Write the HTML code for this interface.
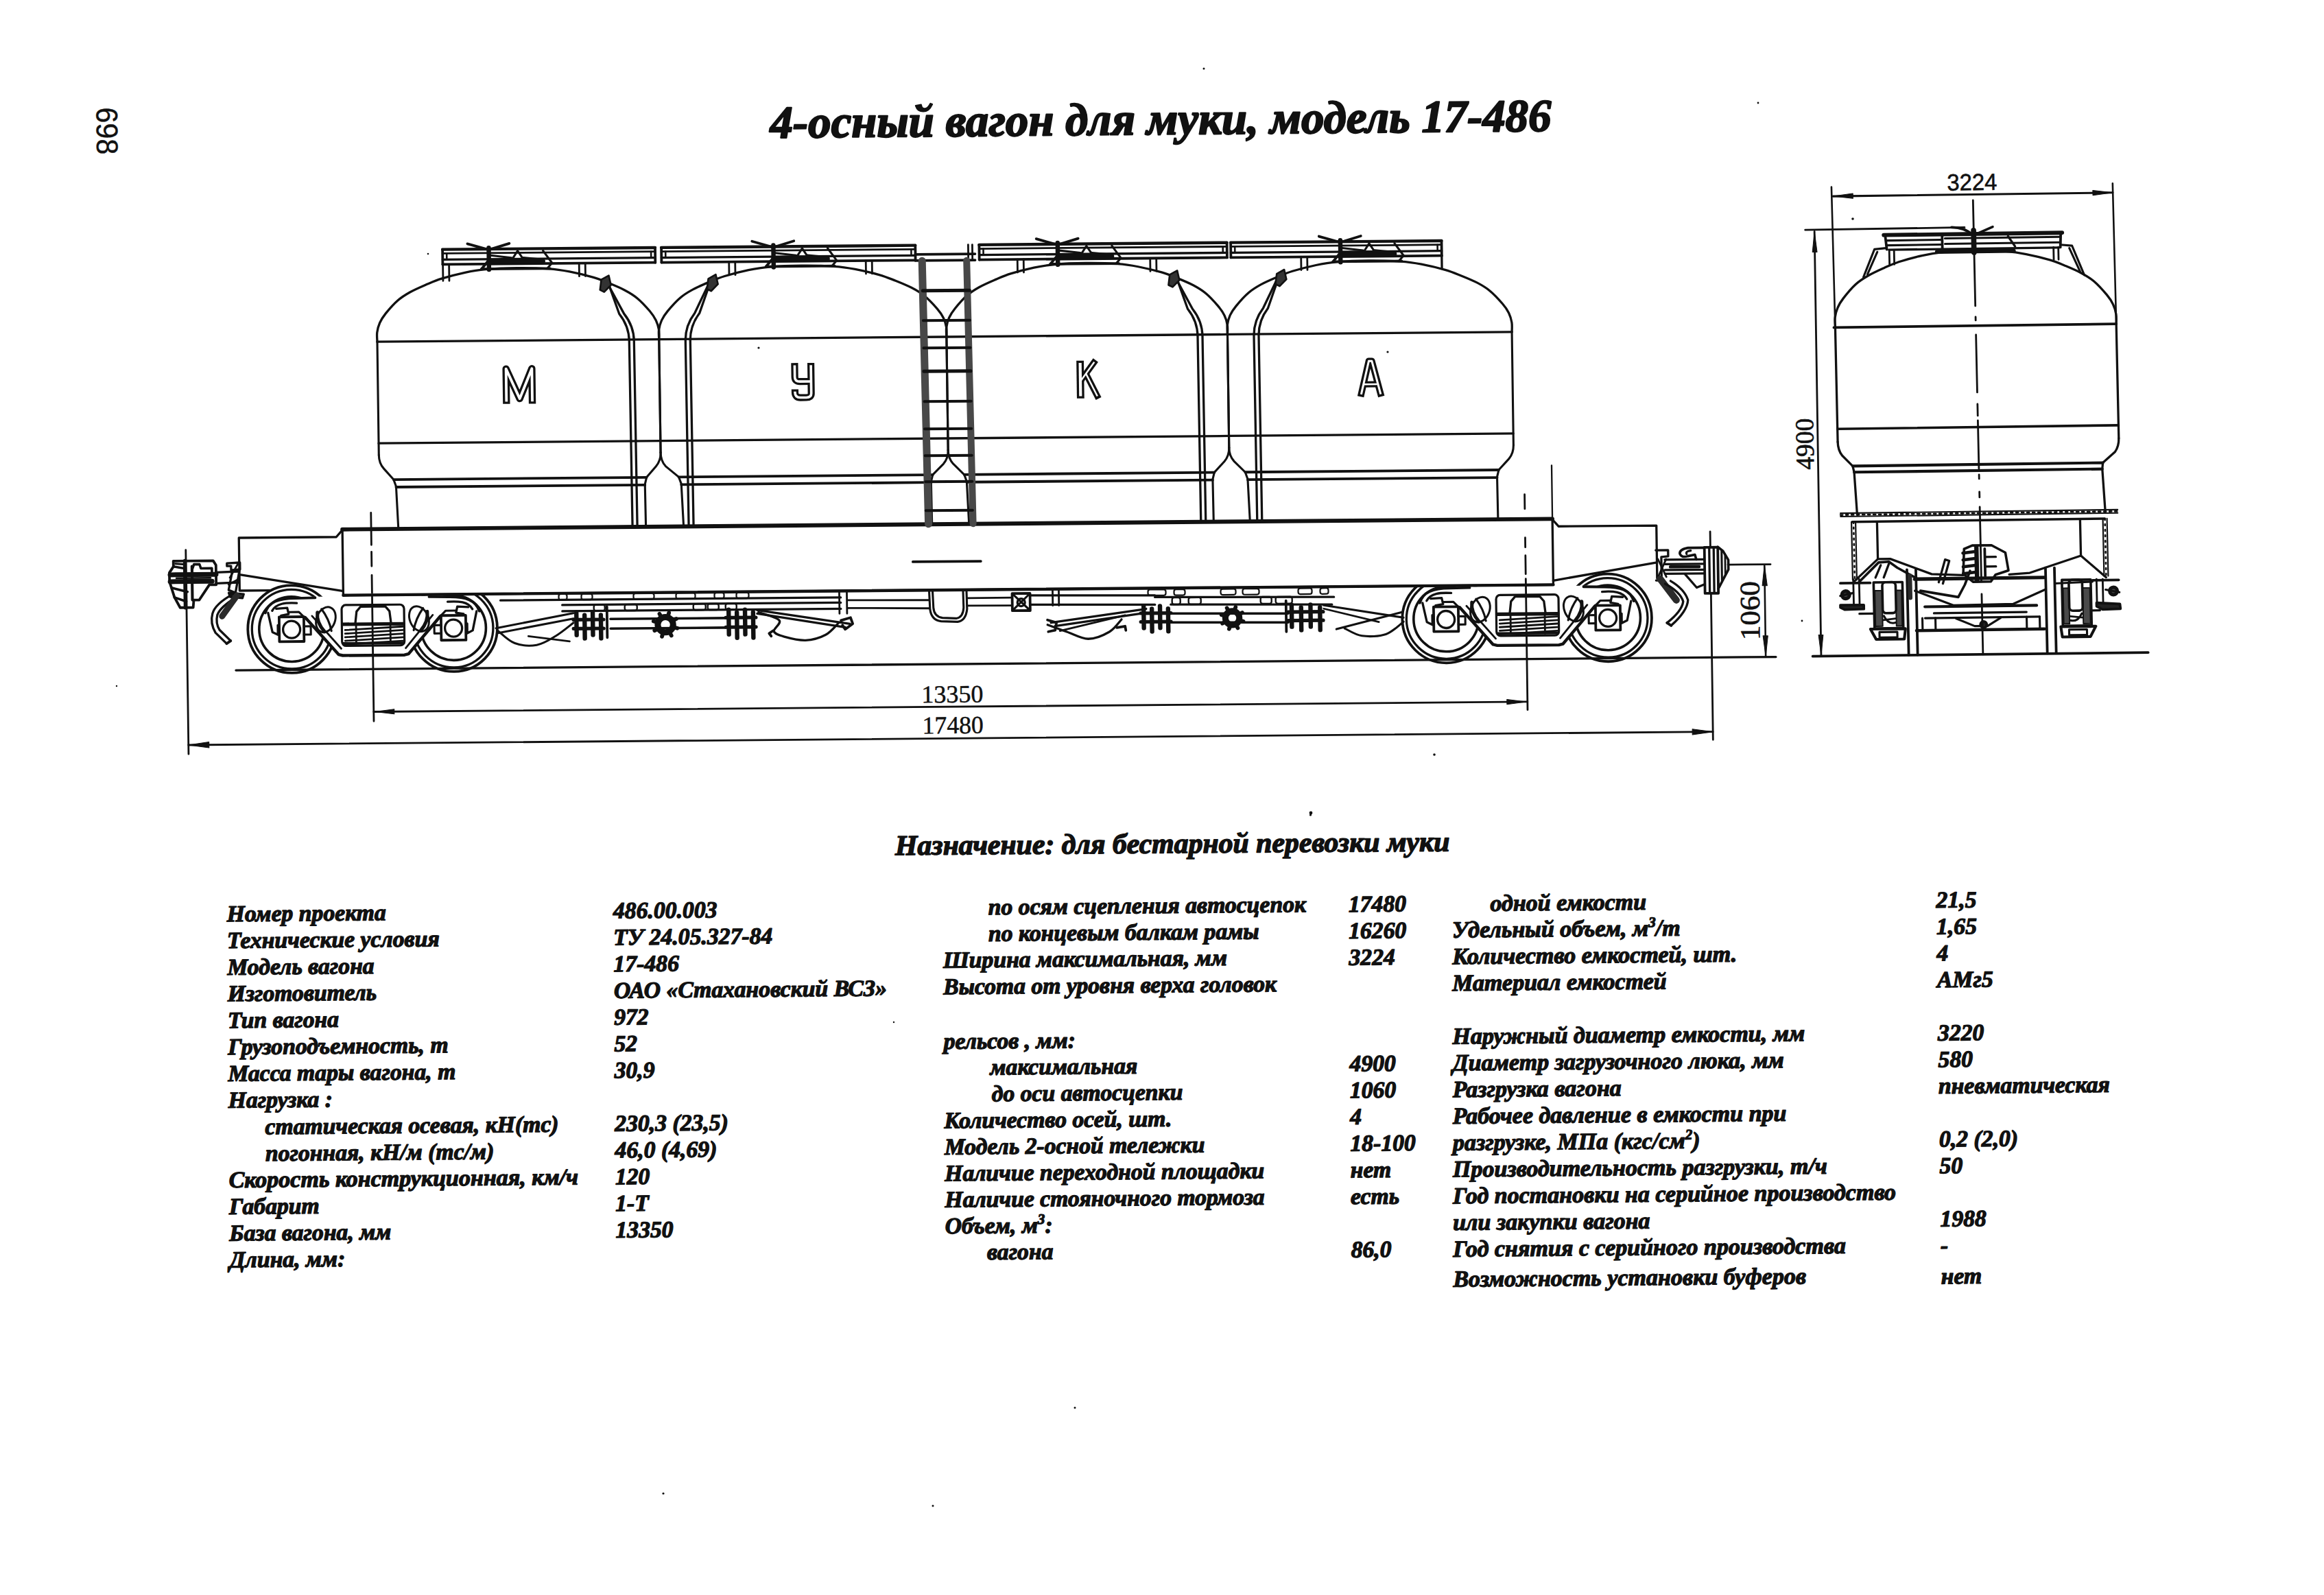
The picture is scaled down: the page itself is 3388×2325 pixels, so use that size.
<!DOCTYPE html><html><head><meta charset="utf-8"><title>4-осный вагон для муки, модель 17-486</title><style>html,body{margin:0;padding:0;background:#fff}body{width:3388px;height:2325px;position:relative;overflow:hidden;font-family:"Liberation Serif",serif}</style></head><body><svg width="3388" height="2325" viewBox="0 0 3388 2325" style="position:absolute;left:0;top:0">
<g fill="#111" stroke="#111" stroke-width="1.3" stroke-linejoin="round">
<text x="1122.7" y="200.9" font-size="66.7" font-family="Liberation Serif" font-weight="bold" font-style="italic" textLength="1139.0" lengthAdjust="spacingAndGlyphs" transform="rotate(-0.5 1122.7 200.9)" stroke-width="2.2">4-осный вагон для муки, модель 17-486</text>
<text x="1305.0" y="1246.2" font-size="41.5" font-family="Liberation Serif" font-weight="bold" font-style="italic" textLength="808.5" lengthAdjust="spacingAndGlyphs" transform="rotate(-0.4 1305.0 1246.2)" stroke-width="1.5">Назначение: для бестарной перевозки муки</text>
<text x="330.8" y="1343.3" font-size="33.7" font-family="Liberation Serif" font-weight="bold" font-style="italic" transform="rotate(-0.5 330.8 1343.3)" >Номер проекта</text>
<text x="331.1" y="1382.1" font-size="33.7" font-family="Liberation Serif" font-weight="bold" font-style="italic" transform="rotate(-0.5 331.1 1382.1)" >Технические условия</text>
<text x="331.4" y="1420.9" font-size="33.7" font-family="Liberation Serif" font-weight="bold" font-style="italic" transform="rotate(-0.5 331.4 1420.9)" >Модель вагона</text>
<text x="331.7" y="1459.6" font-size="33.7" font-family="Liberation Serif" font-weight="bold" font-style="italic" transform="rotate(-0.5 331.7 1459.6)" >Изготовитель</text>
<text x="332.0" y="1498.4" font-size="33.7" font-family="Liberation Serif" font-weight="bold" font-style="italic" transform="rotate(-0.5 332.0 1498.4)" >Тип вагона</text>
<text x="332.3" y="1537.2" font-size="33.7" font-family="Liberation Serif" font-weight="bold" font-style="italic" transform="rotate(-0.5 332.3 1537.2)" >Грузоподъемность, т</text>
<text x="332.5" y="1576.0" font-size="33.7" font-family="Liberation Serif" font-weight="bold" font-style="italic" transform="rotate(-0.5 332.5 1576.0)" >Масса тары вагона, т</text>
<text x="332.8" y="1614.8" font-size="33.7" font-family="Liberation Serif" font-weight="bold" font-style="italic" transform="rotate(-0.5 332.8 1614.8)" >Нагрузка :</text>
<text x="386.6" y="1653.5" font-size="33.7" font-family="Liberation Serif" font-weight="bold" font-style="italic" transform="rotate(-0.5 386.6 1653.5)" >статическая осевая, кН(тс)</text>
<text x="386.9" y="1692.3" font-size="33.7" font-family="Liberation Serif" font-weight="bold" font-style="italic" transform="rotate(-0.5 386.9 1692.3)" >погонная, кН/м (тс/м)</text>
<text x="333.7" y="1731.1" font-size="33.7" font-family="Liberation Serif" font-weight="bold" font-style="italic" textLength="509.5" lengthAdjust="spacingAndGlyphs" transform="rotate(-0.5 333.7 1731.1)" >Скорость конструкционная, км/ч</text>
<text x="334.0" y="1769.9" font-size="33.7" font-family="Liberation Serif" font-weight="bold" font-style="italic" transform="rotate(-0.5 334.0 1769.9)" >Габарит</text>
<text x="334.3" y="1808.7" font-size="33.7" font-family="Liberation Serif" font-weight="bold" font-style="italic" transform="rotate(-0.5 334.3 1808.7)" >База вагона, мм</text>
<text x="334.6" y="1847.4" font-size="33.7" font-family="Liberation Serif" font-weight="bold" font-style="italic" transform="rotate(-0.5 334.6 1847.4)" >Длина, мм:</text>
<text x="894.0" y="1338.6" font-size="33.7" font-family="Liberation Serif" font-weight="bold" font-style="italic" transform="rotate(-0.5 894.0 1338.6)" >486.00.003</text>
<text x="894.3" y="1377.4" font-size="33.7" font-family="Liberation Serif" font-weight="bold" font-style="italic" transform="rotate(-0.5 894.3 1377.4)" >ТУ 24.05.327-84</text>
<text x="894.6" y="1416.2" font-size="33.7" font-family="Liberation Serif" font-weight="bold" font-style="italic" transform="rotate(-0.5 894.6 1416.2)" >17-486</text>
<text x="894.9" y="1454.9" font-size="33.7" font-family="Liberation Serif" font-weight="bold" font-style="italic" transform="rotate(-0.5 894.9 1454.9)" >ОАО «Стахановский ВСЗ»</text>
<text x="895.2" y="1493.7" font-size="33.7" font-family="Liberation Serif" font-weight="bold" font-style="italic" transform="rotate(-0.5 895.2 1493.7)" >972</text>
<text x="895.5" y="1532.5" font-size="33.7" font-family="Liberation Serif" font-weight="bold" font-style="italic" transform="rotate(-0.5 895.5 1532.5)" >52</text>
<text x="895.7" y="1571.3" font-size="33.7" font-family="Liberation Serif" font-weight="bold" font-style="italic" transform="rotate(-0.5 895.7 1571.3)" >30,9</text>
<text x="896.3" y="1648.8" font-size="33.7" font-family="Liberation Serif" font-weight="bold" font-style="italic" transform="rotate(-0.5 896.3 1648.8)" >230,3 (23,5)</text>
<text x="896.6" y="1687.6" font-size="33.7" font-family="Liberation Serif" font-weight="bold" font-style="italic" transform="rotate(-0.5 896.6 1687.6)" >46,0 (4,69)</text>
<text x="896.9" y="1726.4" font-size="33.7" font-family="Liberation Serif" font-weight="bold" font-style="italic" transform="rotate(-0.5 896.9 1726.4)" >120</text>
<text x="897.2" y="1765.2" font-size="33.7" font-family="Liberation Serif" font-weight="bold" font-style="italic" transform="rotate(-0.5 897.2 1765.2)" >1-Т</text>
<text x="897.5" y="1804.0" font-size="33.7" font-family="Liberation Serif" font-weight="bold" font-style="italic" transform="rotate(-0.5 897.5 1804.0)" >13350</text>
<text x="1440.8" y="1333.3" font-size="33.7" font-family="Liberation Serif" font-weight="bold" font-style="italic" transform="rotate(-0.5 1440.8 1333.3)" >по осям сцепления автосцепок</text>
<text x="1441.1" y="1372.0" font-size="33.7" font-family="Liberation Serif" font-weight="bold" font-style="italic" transform="rotate(-0.5 1441.1 1372.0)" >по концевым балкам рамы</text>
<text x="1374.9" y="1410.7" font-size="33.7" font-family="Liberation Serif" font-weight="bold" font-style="italic" transform="rotate(-0.5 1374.9 1410.7)" >Ширина максимальная, мм</text>
<text x="1375.2" y="1449.5" font-size="33.7" font-family="Liberation Serif" font-weight="bold" font-style="italic" transform="rotate(-0.5 1375.2 1449.5)" >Высота от уровня верха головок</text>
<text x="1375.7" y="1529.1" font-size="33.7" font-family="Liberation Serif" font-weight="bold" font-style="italic" transform="rotate(-0.5 1375.7 1529.1)" >рельсов , мм:</text>
<text x="1443.5" y="1566.7" font-size="33.7" font-family="Liberation Serif" font-weight="bold" font-style="italic" transform="rotate(-0.5 1443.5 1566.7)" >максимальная</text>
<text x="1445.8" y="1605.4" font-size="33.7" font-family="Liberation Serif" font-weight="bold" font-style="italic" transform="rotate(-0.5 1445.8 1605.4)" >до оси автосцепки</text>
<text x="1376.6" y="1644.6" font-size="33.7" font-family="Liberation Serif" font-weight="bold" font-style="italic" transform="rotate(-0.5 1376.6 1644.6)" >Количество осей, шт.</text>
<text x="1376.9" y="1682.9" font-size="33.7" font-family="Liberation Serif" font-weight="bold" font-style="italic" transform="rotate(-0.5 1376.9 1682.9)" >Модель 2-осной тележки</text>
<text x="1377.2" y="1721.5" font-size="33.7" font-family="Liberation Serif" font-weight="bold" font-style="italic" transform="rotate(-0.5 1377.2 1721.5)" >Наличие переходной площадки</text>
<text x="1377.5" y="1759.8" font-size="33.7" font-family="Liberation Serif" font-weight="bold" font-style="italic" transform="rotate(-0.5 1377.5 1759.8)" >Наличие стояночного тормоза</text>
<text x="1377.8" y="1798.3" font-size="33.7" font-family="Liberation Serif" font-weight="bold" font-style="italic" transform="rotate(-0.5 1377.8 1798.3)" >Объем, м<tspan font-size="21" dy="-13">3</tspan><tspan dy="13">:</tspan></text>
<text x="1439.0" y="1836.1" font-size="33.7" font-family="Liberation Serif" font-weight="bold" font-style="italic" transform="rotate(-0.5 1439.0 1836.1)" >вагона</text>
<text x="1965.9" y="1329.2" font-size="33.7" font-family="Liberation Serif" font-weight="bold" font-style="italic" transform="rotate(-0.5 1965.9 1329.2)" >17480</text>
<text x="1966.2" y="1367.9" font-size="33.7" font-family="Liberation Serif" font-weight="bold" font-style="italic" transform="rotate(-0.5 1966.2 1367.9)" >16260</text>
<text x="1966.5" y="1406.7" font-size="33.7" font-family="Liberation Serif" font-weight="bold" font-style="italic" transform="rotate(-0.5 1966.5 1406.7)" >3224</text>
<text x="1967.6" y="1561.6" font-size="33.7" font-family="Liberation Serif" font-weight="bold" font-style="italic" transform="rotate(-0.5 1967.6 1561.6)" >4900</text>
<text x="1967.9" y="1600.3" font-size="33.7" font-family="Liberation Serif" font-weight="bold" font-style="italic" transform="rotate(-0.5 1967.9 1600.3)" >1060</text>
<text x="1968.2" y="1639.0" font-size="33.7" font-family="Liberation Serif" font-weight="bold" font-style="italic" transform="rotate(-0.5 1968.2 1639.0)" >4</text>
<text x="1968.5" y="1677.8" font-size="33.7" font-family="Liberation Serif" font-weight="bold" font-style="italic" transform="rotate(-0.5 1968.5 1677.8)" >18-100</text>
<text x="1968.8" y="1716.5" font-size="33.7" font-family="Liberation Serif" font-weight="bold" font-style="italic" transform="rotate(-0.5 1968.8 1716.5)" >нет</text>
<text x="1969.1" y="1755.2" font-size="33.7" font-family="Liberation Serif" font-weight="bold" font-style="italic" transform="rotate(-0.5 1969.1 1755.2)" >есть</text>
<text x="1969.7" y="1832.7" font-size="33.7" font-family="Liberation Serif" font-weight="bold" font-style="italic" transform="rotate(-0.5 1969.7 1832.7)" >86,0</text>
<text x="2172.5" y="1327.9" font-size="34.03" font-family="Liberation Serif" font-weight="bold" font-style="italic" transform="rotate(-0.5 2172.5 1327.9)" >одной емкости</text>
<text x="2117.1" y="1366.7" font-size="34.03" font-family="Liberation Serif" font-weight="bold" font-style="italic" transform="rotate(-0.5 2117.1 1366.7)" >Удельный объем, м<tspan font-size="21" dy="-13">3</tspan><tspan dy="13">/т</tspan></text>
<text x="2117.2" y="1405.4" font-size="34.03" font-family="Liberation Serif" font-weight="bold" font-style="italic" transform="rotate(-0.5 2117.2 1405.4)" >Количество емкостей, шт.</text>
<text x="2117.3" y="1444.2" font-size="34.03" font-family="Liberation Serif" font-weight="bold" font-style="italic" transform="rotate(-0.5 2117.3 1444.2)" >Материал емкостей</text>
<text x="2117.5" y="1521.8" font-size="34.03" font-family="Liberation Serif" font-weight="bold" font-style="italic" transform="rotate(-0.5 2117.5 1521.8)" >Наружный диаметр емкости, мм</text>
<text x="2117.6" y="1560.5" font-size="34.03" font-family="Liberation Serif" font-weight="bold" font-style="italic" transform="rotate(-0.5 2117.6 1560.5)" >Диаметр загрузочного люка, мм</text>
<text x="2117.7" y="1599.3" font-size="34.03" font-family="Liberation Serif" font-weight="bold" font-style="italic" transform="rotate(-0.5 2117.7 1599.3)" >Разгрузка вагона</text>
<text x="2117.8" y="1638.1" font-size="34.03" font-family="Liberation Serif" font-weight="bold" font-style="italic" transform="rotate(-0.5 2117.8 1638.1)" >Рабочее давление в емкости при</text>
<text x="2117.9" y="1676.8" font-size="34.03" font-family="Liberation Serif" font-weight="bold" font-style="italic" transform="rotate(-0.5 2117.9 1676.8)" >разгрузке, МПа (кгс/см<tspan font-size="21" dy="-13">2</tspan><tspan dy="13">)</tspan></text>
<text x="2118.0" y="1715.6" font-size="34.03" font-family="Liberation Serif" font-weight="bold" font-style="italic" transform="rotate(-0.5 2118.0 1715.6)" >Производительность разгрузки, т/ч</text>
<text x="2118.1" y="1754.4" font-size="34.03" font-family="Liberation Serif" font-weight="bold" font-style="italic" transform="rotate(-0.5 2118.1 1754.4)" >Год постановки на серийное производство</text>
<text x="2118.2" y="1793.1" font-size="34.03" font-family="Liberation Serif" font-weight="bold" font-style="italic" transform="rotate(-0.5 2118.2 1793.1)" >или закупки вагона</text>
<text x="2118.3" y="1831.9" font-size="34.03" font-family="Liberation Serif" font-weight="bold" font-style="italic" transform="rotate(-0.5 2118.3 1831.9)" >Год снятия с серийного производства</text>
<text x="2118.4" y="1875.8" font-size="34.03" font-family="Liberation Serif" font-weight="bold" font-style="italic" transform="rotate(-0.5 2118.4 1875.8)" >Возможность установки буферов</text>
<text x="2822.6" y="1323.0" font-size="33.7" font-family="Liberation Serif" font-weight="bold" font-style="italic" transform="rotate(-0.5 2822.6 1323.0)" >21,5</text>
<text x="2823.1" y="1361.7" font-size="33.7" font-family="Liberation Serif" font-weight="bold" font-style="italic" transform="rotate(-0.5 2823.1 1361.7)" >1,65</text>
<text x="2823.6" y="1400.5" font-size="33.7" font-family="Liberation Serif" font-weight="bold" font-style="italic" transform="rotate(-0.5 2823.6 1400.5)" >4</text>
<text x="2824.1" y="1439.2" font-size="33.7" font-family="Liberation Serif" font-weight="bold" font-style="italic" transform="rotate(-0.5 2824.1 1439.2)" >АМг5</text>
<text x="2825.1" y="1516.7" font-size="33.7" font-family="Liberation Serif" font-weight="bold" font-style="italic" transform="rotate(-0.5 2825.1 1516.7)" >3220</text>
<text x="2825.6" y="1555.4" font-size="33.7" font-family="Liberation Serif" font-weight="bold" font-style="italic" transform="rotate(-0.5 2825.6 1555.4)" >580</text>
<text x="2826.1" y="1594.1" font-size="33.7" font-family="Liberation Serif" font-weight="bold" font-style="italic" transform="rotate(-0.5 2826.1 1594.1)" >пневматическая</text>
<text x="2827.1" y="1671.6" font-size="33.7" font-family="Liberation Serif" font-weight="bold" font-style="italic" transform="rotate(-0.5 2827.1 1671.6)" >0,2 (2,0)</text>
<text x="2827.6" y="1710.3" font-size="33.7" font-family="Liberation Serif" font-weight="bold" font-style="italic" transform="rotate(-0.5 2827.6 1710.3)" >50</text>
<text x="2828.6" y="1787.8" font-size="33.7" font-family="Liberation Serif" font-weight="bold" font-style="italic" transform="rotate(-0.5 2828.6 1787.8)" >1988</text>
<text x="2829.1" y="1826.5" font-size="33.7" font-family="Liberation Serif" font-weight="bold" font-style="italic" transform="rotate(-0.5 2829.1 1826.5)" >-</text>
<text x="2829.7" y="1871.4" font-size="33.7" font-family="Liberation Serif" font-weight="bold" font-style="italic" transform="rotate(-0.5 2829.7 1871.4)" >нет</text>
<text x="1343.5" y="1024.3" font-size="36" font-family="Liberation Serif" font-weight="normal" font-style="normal" textLength="90.0" lengthAdjust="spacingAndGlyphs" transform="rotate(-0.5 1343.5 1024.3)" stroke-width="0.5">13350</text>
<text x="1344.8" y="1069.4" font-size="36" font-family="Liberation Serif" font-weight="normal" font-style="normal" textLength="89.0" lengthAdjust="spacingAndGlyphs" transform="rotate(-0.5 1344.8 1069.4)" stroke-width="0.5">17480</text>
<text x="0" y="0" font-size="41" font-family="Liberation Serif" transform="translate(2565.5 933) rotate(-90.6)" textLength="86" lengthAdjust="spacingAndGlyphs" stroke-width="0.6">1060</text>
<text x="0" y="0" font-size="38" font-family="Liberation Serif" transform="translate(2644.5 684.5) rotate(-91)" textLength="75" lengthAdjust="spacingAndGlyphs" stroke-width="0.6">4900</text>
<text x="2838.5" y="277.8" font-size="34" font-family="Liberation Sans" font-weight="normal" font-style="normal" textLength="73.0" lengthAdjust="spacingAndGlyphs" transform="rotate(-0.8 2838.5 277.8)" stroke-width="0.6">3224</text>
<text x="0" y="0" font-size="44" font-family="Liberation Sans" transform="translate(140.5 156.5) rotate(89.5)" textLength="69" lengthAdjust="spacingAndGlyphs" stroke-width="0.4">698</text>
</g>
<g transform="matrix(1,-0.0087,0.014,1,-12.600,12.049)" stroke="#111" fill="none" stroke-linecap="round" stroke-linejoin="round">
<path d="M343 968L2588 968" stroke-width="3.3" />
<g transform="translate(543 908.8)">
<circle cx="-118" cy="0" r="63.8" stroke-width="3.8" fill="none" />
<circle cx="-118" cy="0" r="57.8" stroke-width="3.3" fill="none" />
<circle cx="-118" cy="0" r="47.3" stroke-width="3.6" fill="none" />
<circle cx="118" cy="0" r="63.8" stroke-width="3.8" fill="none" />
<circle cx="118" cy="0" r="57.8" stroke-width="3.3" fill="none" />
<circle cx="118" cy="0" r="47.3" stroke-width="3.6" fill="none" />
<path d="M-156 -22C-150 -40 -135 -46 -112 -46L-83 -47L100 -47L112 -46C135 -46 150 -40 156 -22L140 -20L100 -16L52 38.5L-48 38.5L-97 -16L-140 -20Z" stroke-width="0" fill="#fff" stroke='none'/>
<path d="M-156 -24C-151 -40 -137 -45 -112 -45L-83 -45.5" stroke-width="3.8" fill="none" />
<path d="M156 -24C151 -40 137 -45 112 -45L83 -45.5" stroke-width="3.8" fill="none" />
<path d="M-146 -27C-140 -38 -126 -39 -110 -38" stroke-width="3.3" fill="none" />
<path d="M146 -27C140 -38 126 -39 110 -38" stroke-width="3.3" fill="none" />
<path d="M-98 -17L-50 37.5L-44 39L46 39L52 37.5L99 -17" stroke-width="4.4" fill="none" />
<path d="M-88 -19L-46 29" stroke-width="2.8" fill="none" />
<path d="M88 -19L48 29" stroke-width="2.8" fill="none" />
<path d="M-152 -24L-146 4L-138 8L-138 -6" stroke-width="3.3" fill="none" />
<path d="M-140 -30L-124 -31L-122 -22L-133 -20L-135 -14" stroke-width="3.3" fill="none" />
<path d="M-136 -18L-100 -18L-100 18L-136 18Z" stroke-width="3.8" fill="#fff" />
<circle cx="-118" cy="0.5" r="12.5" stroke-width="3.3" fill="#fff" />
<path d="M-100 -4L-90 -4L-90 8L-100 8" stroke-width="3.1" fill="none" />
<path d="M-100 -18L-107 -25L-122 -25" stroke-width="3.1" fill="none" />
<path d="M152 -24L146 4L138 8L138 -6" stroke-width="3.3" fill="none" />
<path d="M140 -30L124 -31L122 -22L133 -20L135 -14" stroke-width="3.3" fill="none" />
<path d="M136 -18L100 -18L100 18L136 18Z" stroke-width="3.8" fill="#fff" />
<circle cx="118" cy="0.5" r="12.5" stroke-width="3.3" fill="#fff" />
<path d="M100 -4L90 -4L90 8L100 8" stroke-width="3.1" fill="none" />
<path d="M100 -18L107 -25L122 -25" stroke-width="3.1" fill="none" />
<rect x="-44.7" y="-34.5" width="91" height="59.5" rx="6" stroke-width="3.2" fill="#fff"/>
<path d="M-25 -8L-23 -25L-17 -32L19 -32L25 -25L27 -8" stroke-width="3.3" fill="none" />
<path d="M-43 -6.5L45 -6.5" stroke-width="5.1" />
<path d="M-40 2L44 -2.5" stroke-width="2.8" />
<path d="M-40 7.2L44 2.7" stroke-width="2.8" />
<path d="M-40 12.4L44 7.9" stroke-width="2.8" />
<path d="M-40 17.6L44 13.1" stroke-width="2.8" />
<path d="M-40 22.8L44 18.3" stroke-width="2.8" />
<path d="M-24 -4L-24 22" stroke-width="2.8" />
<path d="M26 -4L26 22" stroke-width="2.8" />
<path d="M-43 21.5L45 21.5" stroke-width="3.8" />
<ellipse cx="-68" cy="-13.5" rx="13.5" ry="19" transform="rotate(22 -68 -13.5)" stroke-width="3" fill="#fff"/>
<path d="M-74 -29Q-63 -14 -60 3" stroke-width="3.1" fill="none" />
<path d="M-80 -24Q-82 -10 -70 4" stroke-width="5.1" fill="none" />
<ellipse cx="68" cy="-13.5" rx="13.5" ry="19" transform="rotate(-22 68 -13.5)" stroke-width="3" fill="#fff"/>
<path d="M74 -29Q63 -14 60 3" stroke-width="3.1" fill="none" />
<path d="M80 -24Q82 -10 70 4" stroke-width="5.1" fill="none" />
</g>
<g transform="translate(2226 908.8)">
<circle cx="-118" cy="0" r="63.8" stroke-width="3.8" fill="none" />
<circle cx="-118" cy="0" r="57.8" stroke-width="3.3" fill="none" />
<circle cx="-118" cy="0" r="47.3" stroke-width="3.6" fill="none" />
<circle cx="118" cy="0" r="63.8" stroke-width="3.8" fill="none" />
<circle cx="118" cy="0" r="57.8" stroke-width="3.3" fill="none" />
<circle cx="118" cy="0" r="47.3" stroke-width="3.6" fill="none" />
<path d="M-156 -22C-150 -40 -135 -46 -112 -46L-83 -47L100 -47L112 -46C135 -46 150 -40 156 -22L140 -20L100 -16L52 38.5L-48 38.5L-97 -16L-140 -20Z" stroke-width="0" fill="#fff" stroke='none'/>
<path d="M-156 -24C-151 -40 -137 -45 -112 -45L-83 -45.5" stroke-width="3.8" fill="none" />
<path d="M156 -24C151 -40 137 -45 112 -45L83 -45.5" stroke-width="3.8" fill="none" />
<path d="M-146 -27C-140 -38 -126 -39 -110 -38" stroke-width="3.3" fill="none" />
<path d="M146 -27C140 -38 126 -39 110 -38" stroke-width="3.3" fill="none" />
<path d="M-98 -17L-50 37.5L-44 39L46 39L52 37.5L99 -17" stroke-width="4.4" fill="none" />
<path d="M-88 -19L-46 29" stroke-width="2.8" fill="none" />
<path d="M88 -19L48 29" stroke-width="2.8" fill="none" />
<path d="M-152 -24L-146 4L-138 8L-138 -6" stroke-width="3.3" fill="none" />
<path d="M-140 -30L-124 -31L-122 -22L-133 -20L-135 -14" stroke-width="3.3" fill="none" />
<path d="M-136 -18L-100 -18L-100 18L-136 18Z" stroke-width="3.8" fill="#fff" />
<circle cx="-118" cy="0.5" r="12.5" stroke-width="3.3" fill="#fff" />
<path d="M-100 -4L-90 -4L-90 8L-100 8" stroke-width="3.1" fill="none" />
<path d="M-100 -18L-107 -25L-122 -25" stroke-width="3.1" fill="none" />
<path d="M152 -24L146 4L138 8L138 -6" stroke-width="3.3" fill="none" />
<path d="M140 -30L124 -31L122 -22L133 -20L135 -14" stroke-width="3.3" fill="none" />
<path d="M136 -18L100 -18L100 18L136 18Z" stroke-width="3.8" fill="#fff" />
<circle cx="118" cy="0.5" r="12.5" stroke-width="3.3" fill="#fff" />
<path d="M100 -4L90 -4L90 8L100 8" stroke-width="3.1" fill="none" />
<path d="M100 -18L107 -25L122 -25" stroke-width="3.1" fill="none" />
<rect x="-44.7" y="-34.5" width="91" height="59.5" rx="6" stroke-width="3.2" fill="#fff"/>
<path d="M-25 -8L-23 -25L-17 -32L19 -32L25 -25L27 -8" stroke-width="3.3" fill="none" />
<path d="M-43 -6.5L45 -6.5" stroke-width="5.1" />
<path d="M-40 2L44 -2.5" stroke-width="2.8" />
<path d="M-40 7.2L44 2.7" stroke-width="2.8" />
<path d="M-40 12.4L44 7.9" stroke-width="2.8" />
<path d="M-40 17.6L44 13.1" stroke-width="2.8" />
<path d="M-40 22.8L44 18.3" stroke-width="2.8" />
<path d="M-24 -4L-24 22" stroke-width="2.8" />
<path d="M26 -4L26 22" stroke-width="2.8" />
<path d="M-43 21.5L45 21.5" stroke-width="3.8" />
<ellipse cx="-68" cy="-13.5" rx="13.5" ry="19" transform="rotate(22 -68 -13.5)" stroke-width="3" fill="#fff"/>
<path d="M-74 -29Q-63 -14 -60 3" stroke-width="3.1" fill="none" />
<path d="M-80 -24Q-82 -10 -70 4" stroke-width="5.1" fill="none" />
<ellipse cx="68" cy="-13.5" rx="13.5" ry="19" transform="rotate(-22 68 -13.5)" stroke-width="3" fill="#fff"/>
<path d="M74 -29Q63 -14 60 3" stroke-width="3.1" fill="none" />
<path d="M80 -24Q82 -10 70 4" stroke-width="5.1" fill="none" />
</g>
<path d="M555.7 491C555.7 488.7 555 481.8 555.7 477.2C556.4 472.5 557.7 467.9 559.8 463.3C562 458.7 564.2 455.2 568.6 449.8C573.1 444.4 580.7 435.9 586.7 430.8C592.7 425.6 597.8 422.7 604.8 418.9C611.8 415.1 621.2 411.2 628.8 408C636.5 404.8 641.5 402.5 650.8 399.7C660.1 396.9 674.2 393.4 684.9 391.2C695.6 389.1 702.2 387.9 714.9 386.9C727.6 385.9 745.7 385.3 761.1 385.3C776.5 385.3 794.6 385.9 807.3 386.9C820 387.9 826.6 389.1 837.3 391.2C848 393.4 862.1 396.9 871.4 399.7C880.7 402.5 885.7 404.8 893.4 408C901 411.2 910.4 415.1 917.4 418.9C924.4 422.7 929.5 425.6 935.5 430.8C941.5 435.9 949.1 444.4 953.6 449.8C958 455.2 960.2 458.7 962.4 463.3C964.5 467.9 965.8 472.5 966.5 477.2C967.2 481.8 966.5 488.7 966.5 491" stroke-width="3.3" fill="none" />
<path d="M555.7 491L555.7 656" stroke-width="3.1" />
<path d="M966.5 491L966.5 656" stroke-width="3.1" />
<path d="M555.7 491L966.5 491" stroke-width="3.3" />
<path d="M555.7 639L966.5 639" stroke-width="3.3" />
<path d="M555.7 656Q555.7 668 562.7 676L576.7 692L580.2 702L582.7 763.5" stroke-width="3.1" fill="none" />
<path d="M966.5 656Q966.5 668 959.5 676L945.5 692L943 702L943.5 763.5" stroke-width="3.1" fill="none" />
<path d="M576.7 692L945.5 692" stroke-width="3.8" />
<path d="M580.2 703L943 703" stroke-width="3.8" />
<path d="M893.5 407.9L909 453.3Q923 471.3 923 493.3L924 763.5" stroke-width="3.3" fill="none" />
<path d="M893.5 410.7L916 453.3Q930 471.3 930 493.3L931 763.5" stroke-width="3.3" fill="none" />
<path d="M883.5 403.3L894.5 397.3L897.5 411.3L887.5 421.3L881.5 418.3Z" stroke-width="2.6" fill="#333" />
<g transform="translate(736.8 527.2)" stroke-linecap="butt" stroke-linejoin="round">
<path d="M6 56L6 4.8L25.4 48.5L43.7 4.8L43.7 56" stroke-width="10.4"/>
<path d="M6 52.7L6 4.8L25.4 48.5L43.7 4.8L43.7 52.7" stroke="#fff" stroke-width="3.8"/>
</g>
<path d="M966.5 491C966.5 488.7 965.8 481.8 966.5 477.2C967.2 472.5 968.5 467.9 970.7 463.3C972.9 458.7 975.1 455.2 979.7 449.8C984.3 444.4 992 435.9 998.1 430.8C1004.3 425.6 1009.4 422.7 1016.6 418.9C1023.7 415.1 1033.3 411.2 1041.1 408C1048.9 404.8 1054 402.5 1063.5 399.7C1073.1 396.9 1087.4 393.4 1098.3 391.2C1109.2 389.1 1115.9 387.9 1128.9 386.9C1141.9 385.9 1160.3 385.3 1176 385.3C1191.8 385.3 1210.2 385.9 1223.2 386.9C1236.2 387.9 1242.9 389.1 1253.8 391.2C1264.7 393.4 1279 396.9 1288.6 399.7C1298.1 402.5 1303.2 404.8 1311 408C1318.8 411.2 1328.4 415.1 1335.5 418.9C1342.7 422.7 1347.8 425.6 1354 430.8C1360.1 435.9 1367.8 444.4 1372.4 449.8C1377 455.2 1379.2 458.7 1381.4 463.3C1383.6 467.9 1384.9 472.5 1385.6 477.2C1386.3 481.8 1385.6 488.7 1385.6 491" stroke-width="3.3" fill="none" />
<path d="M966.5 491L966.5 656" stroke-width="3.1" />
<path d="M1385.6 491L1385.6 656" stroke-width="3.1" />
<path d="M966.5 491L1385.6 491" stroke-width="3.3" />
<path d="M966.5 639L1385.6 639" stroke-width="3.3" />
<path d="M966.5 656Q966.5 668 973.5 676L992.5 692L996 702L998.5 763.5" stroke-width="3.1" fill="none" />
<path d="M1385.6 656Q1385.6 668 1378.6 676L1362.6 692L1360.1 702L1360.6 763.5" stroke-width="3.1" fill="none" />
<path d="M992.5 692L1362.6 692" stroke-width="3.8" />
<path d="M996 703L1360.1 703" stroke-width="3.8" />
<path d="M1041.5 407.9L1019 453.3Q1005 471.3 1005 493.3L1006 763.5" stroke-width="3.3" fill="none" />
<path d="M1041.5 410.7L1026 453.3Q1012 471.3 1012 493.3L1013 763.5" stroke-width="3.3" fill="none" />
<path d="M1039.5 403.3L1050.5 397.3L1053.5 411.3L1043.5 421.3L1037.5 418.3Z" stroke-width="2.6" fill="#333" />
<g transform="translate(1157.7 527.2)" stroke-linecap="butt" stroke-linejoin="round">
<path d="M5.9 0L5.9 20.3Q5.9 27.1 13.3 27.1L29.6 27.1" stroke-width="10.2"/>
<path d="M29.6 0L29.6 44.6Q29.6 50.5 22.3 50.5L13.8 50.5Q5.9 50.5 5.9 42.9L5.9 38.4" stroke-width="10.2"/>
<path d="M5.9 3.3L5.9 20.3Q5.9 27.1 13.3 27.1L29.6 27.1" stroke="#fff" stroke-width="3.6"/>
<path d="M29.6 3.3L29.6 44.6Q29.6 50.5 22.3 50.5L13.8 50.5Q5.9 50.5 5.9 42.9L5.9 41.7" stroke="#fff" stroke-width="3.6"/>
</g>
<path d="M1385.6 491C1385.6 488.7 1384.9 481.8 1385.6 477.2C1386.3 472.5 1387.5 467.9 1389.7 463.3C1391.8 458.7 1394 455.2 1398.5 449.8C1403 444.4 1410.5 435.9 1416.5 430.8C1422.5 425.6 1427.5 422.7 1434.5 418.9C1441.5 415.1 1450.9 411.2 1458.5 408C1466.2 404.8 1471.1 402.5 1480.4 399.7C1489.7 396.9 1503.8 393.4 1514.4 391.2C1525.1 389.1 1531.7 387.9 1544.3 386.9C1557 385.9 1575 385.3 1590.4 385.3C1605.8 385.3 1623.8 385.9 1636.5 386.9C1649.1 387.9 1655.7 389.1 1666.4 391.2C1677 393.4 1691.1 396.9 1700.4 399.7C1709.7 402.5 1714.6 404.8 1722.3 408C1729.9 411.2 1739.3 415.1 1746.3 418.9C1753.3 422.7 1758.3 425.6 1764.3 430.8C1770.3 435.9 1777.8 444.4 1782.3 449.8C1786.8 455.2 1789 458.7 1791.1 463.3C1793.3 467.9 1794.5 472.5 1795.2 477.2C1795.9 481.8 1795.2 488.7 1795.2 491" stroke-width="3.3" fill="none" />
<path d="M1385.6 491L1385.6 656" stroke-width="3.1" />
<path d="M1795.2 491L1795.2 656" stroke-width="3.1" />
<path d="M1385.6 491L1795.2 491" stroke-width="3.3" />
<path d="M1385.6 639L1795.2 639" stroke-width="3.3" />
<path d="M1385.6 656Q1385.6 668 1392.6 676L1408.6 692L1412.1 702L1414.6 763.5" stroke-width="3.1" fill="none" />
<path d="M1795.2 656Q1795.2 668 1788.2 676L1773.2 692L1770.7 702L1771.2 763.5" stroke-width="3.1" fill="none" />
<path d="M1408.6 692L1773.2 692" stroke-width="3.8" />
<path d="M1412.1 703L1770.7 703" stroke-width="3.8" />
<path d="M1722.2 407.9L1737.7 453.3Q1751.7 471.3 1751.7 493.3L1752.7 763.5" stroke-width="3.3" fill="none" />
<path d="M1722.2 410.7L1744.7 453.3Q1758.7 471.3 1758.7 493.3L1759.7 763.5" stroke-width="3.3" fill="none" />
<path d="M1712.2 403.3L1723.2 397.3L1726.2 411.3L1716.2 421.3L1710.2 418.3Z" stroke-width="2.6" fill="#333" />
<g transform="translate(1574 527.4)" stroke-linecap="butt" stroke-linejoin="round">
<path d="M5.8 0L5.8 55" stroke-width="10.8"/>
<path d="M7 28.5L28.5 -0.5" stroke-width="9"/>
<path d="M14 19L32 55.5" stroke-width="9"/>
<path d="M5.8 3.3L5.8 51.7" stroke="#fff" stroke-width="4.2"/>
<path d="M7 28.5L26.5 2.2" stroke="#fff" stroke-width="2.4"/>
<path d="M14 19L30.3 52" stroke="#fff" stroke-width="2.4"/>
</g>
<path d="M1795.2 491C1795.2 488.7 1794.5 481.8 1795.2 477.2C1795.9 472.5 1797.2 467.9 1799.3 463.3C1801.5 458.7 1803.7 455.2 1808.3 449.8C1812.8 444.4 1820.4 435.9 1826.5 430.8C1832.6 425.6 1837.7 422.7 1844.7 418.9C1851.8 415.1 1861.3 411.2 1869 408C1876.7 404.8 1881.7 402.5 1891.2 399.7C1900.6 396.9 1914.8 393.4 1925.6 391.2C1936.4 389.1 1943 387.9 1955.9 386.9C1968.7 385.9 1987 385.3 2002.5 385.3C2018 385.3 2036.3 385.9 2049.1 386.9C2062 387.9 2068.6 389.1 2079.4 391.2C2090.2 393.4 2104.4 396.9 2113.8 399.7C2123.3 402.5 2128.3 404.8 2136 408C2143.7 411.2 2153.2 415.1 2160.3 418.9C2167.3 422.7 2172.4 425.6 2178.5 430.8C2184.6 435.9 2192.2 444.4 2196.7 449.8C2201.3 455.2 2203.5 458.7 2205.7 463.3C2207.8 467.9 2209.1 472.5 2209.8 477.2C2210.5 481.8 2209.8 488.7 2209.8 491" stroke-width="3.3" fill="none" />
<path d="M1795.2 491L1795.2 656" stroke-width="3.1" />
<path d="M2209.8 491L2209.8 656" stroke-width="3.1" />
<path d="M1795.2 491L2209.8 491" stroke-width="3.3" />
<path d="M1795.2 639L2209.8 639" stroke-width="3.3" />
<path d="M1795.2 656Q1795.2 668 1802.2 676L1818.2 692L1821.7 702L1824.2 763.5" stroke-width="3.1" fill="none" />
<path d="M2209.8 656Q2209.8 668 2202.8 676L2187.8 692L2185.3 702L2185.8 763.5" stroke-width="3.1" fill="none" />
<path d="M1818.2 692L2187.8 692" stroke-width="3.8" />
<path d="M1821.7 703L2185.3 703" stroke-width="3.8" />
<path d="M1870.2 407.9L1847.7 453.3Q1833.7 471.3 1833.7 493.3L1834.7 763.5" stroke-width="3.3" fill="none" />
<path d="M1870.2 410.7L1854.7 453.3Q1840.7 471.3 1840.7 493.3L1841.7 763.5" stroke-width="3.3" fill="none" />
<path d="M1868.2 403.3L1879.2 397.3L1882.2 411.3L1872.2 421.3L1866.2 418.3Z" stroke-width="2.6" fill="#333" />
<g transform="translate(1983 527)" stroke-linecap="butt" stroke-linejoin="round">
<path d="M5 56.5L17.6 4.6L22 4.6L35.2 56.5" stroke-width="9.6"/>
<path d="M10.5 38.5L29.5 38.5" stroke-width="9"/>
<path d="M5.9 53.2L17.6 4.6L22 4.6L34.3 53.2" stroke="#fff" stroke-width="3"/>
<path d="M10.5 38.5L29.5 38.5" stroke="#fff" stroke-width="2.4"/>
</g>
<path d="M501 860L501 763.5L2265 763.5L2265 860Z" stroke-width="3.3" fill="#fff" />
<path d="M501 764L2265 764" stroke-width="5.9" />
<path d="M501 860L2265 860" stroke-width="4.4" />
<path d="M1332 818.5L1431 818.5" stroke-width="3.8" />
<path d="M501 765L492 775L350 775L350 852L396 852" stroke-width="3.3" fill="none" />
<path d="M352 829L501 854" stroke-width="3.3" fill="none" />
<path d="M2265 765L2274 775L2416.5 775L2416.5 852" stroke-width="3.3" fill="none" />
<path d="M2415 829L2265 854" stroke-width="3.3" fill="none" />
<path d="M652.7 357.3L962.6 357.3" stroke-width="4.4" />
<path d="M652.7 363L962.6 363" stroke-width="2.8" />
<path d="M652.7 372L962.6 372" stroke-width="3.3" />
<path d="M652.7 379L962.6 379" stroke-width="3.8" />
<path d="M652.7 357.3L652.7 379" stroke-width="3.8" />
<path d="M962.6 357.3L962.6 379" stroke-width="3.8" />
<path d="M658.7 363L658.7 372" stroke-width="2.6" />
<path d="M956.6 363L956.6 372" stroke-width="2.6" />
<path d="M971.7 357.3L1341.9 357.3" stroke-width="4.4" />
<path d="M971.7 363L1341.9 363" stroke-width="2.8" />
<path d="M971.7 372L1341.9 372" stroke-width="3.3" />
<path d="M971.7 379L1341.9 379" stroke-width="3.8" />
<path d="M971.7 357.3L971.7 379" stroke-width="3.8" />
<path d="M1341.9 357.3L1341.9 379" stroke-width="3.8" />
<path d="M977.7 363L977.7 372" stroke-width="2.6" />
<path d="M1335.9 363L1335.9 372" stroke-width="2.6" />
<path d="M1435 357.3L1796.2 357.3" stroke-width="4.4" />
<path d="M1435 363L1796.2 363" stroke-width="2.8" />
<path d="M1435 372L1796.2 372" stroke-width="3.3" />
<path d="M1435 379L1796.2 379" stroke-width="3.8" />
<path d="M1435 357.3L1435 379" stroke-width="3.8" />
<path d="M1796.2 357.3L1796.2 379" stroke-width="3.8" />
<path d="M1441 363L1441 372" stroke-width="2.6" />
<path d="M1790.2 363L1790.2 372" stroke-width="2.6" />
<path d="M1801.7 357.3L2109.1 357.3" stroke-width="4.4" />
<path d="M1801.7 363L2109.1 363" stroke-width="2.8" />
<path d="M1801.7 372L2109.1 372" stroke-width="3.3" />
<path d="M1801.7 379L2109.1 379" stroke-width="3.8" />
<path d="M1801.7 357.3L1801.7 379" stroke-width="3.8" />
<path d="M2109.1 357.3L2109.1 379" stroke-width="3.8" />
<path d="M1807.7 363L1807.7 372" stroke-width="2.6" />
<path d="M2103.1 363L2103.1 372" stroke-width="2.6" />
<path d="M652.9 379L652.9 403" stroke-width="2.8" />
<path d="M661.9 379L661.9 403" stroke-width="2.8" />
<path d="M851.5 379L851.5 398" stroke-width="2.8" />
<path d="M860.5 379L860.5 398" stroke-width="2.8" />
<path d="M1070 379L1070 398" stroke-width="2.8" />
<path d="M1079 379L1079 398" stroke-width="2.8" />
<path d="M1269.5 379L1269.5 398" stroke-width="2.8" />
<path d="M1278.5 379L1278.5 398" stroke-width="2.8" />
<path d="M1490.5 379L1490.5 398" stroke-width="2.8" />
<path d="M1499.5 379L1499.5 398" stroke-width="2.8" />
<path d="M1684 379L1684 398" stroke-width="2.8" />
<path d="M1693 379L1693 398" stroke-width="2.8" />
<path d="M1904 379L1904 398" stroke-width="2.8" />
<path d="M1913 379L1913 398" stroke-width="2.8" />
<path d="M2109.1 379L2109.1 398" stroke-width="3.3" />
<path d="M709.1 386.3L809.1 386.3" stroke-width="3.8" />
<path d="M725.1 375.8L799.1 375.8" stroke-width="6.4" />
<path d="M720.1 366.3L753.1 370.3" stroke-width="3.1" />
<path d="M720.1 355.3L720.1 387.3" stroke-width="6.4" />
<path d="M689.1 349.3L720.1 358.3" stroke-width="3.8" />
<path d="M720.1 358.3L750.1 349.3" stroke-width="3.8" />
<path d="M703.1 357.3L737.1 357.3" stroke-width="2.6" />
<path d="M754.1 372.3L762.1 360.3L770.1 372.3Z" stroke-width="3.1" fill="none" />
<path d="M799.1 360.3L812.1 378.3L805.1 386.3" stroke-width="3.1" fill="none" />
<path d="M770.1 371.3L799.1 374.3" stroke-width="5.1" />
<path d="M709.1 386.3L720.1 373.3" stroke-width="3.8" fill="none" />
<path d="M1124 386.3L1224 386.3" stroke-width="3.8" />
<path d="M1140 375.8L1214 375.8" stroke-width="6.4" />
<path d="M1135 366.3L1168 370.3" stroke-width="3.1" />
<path d="M1135 355.3L1135 387.3" stroke-width="6.4" />
<path d="M1104 349.3L1135 358.3" stroke-width="3.8" />
<path d="M1135 358.3L1165 349.3" stroke-width="3.8" />
<path d="M1118 357.3L1152 357.3" stroke-width="2.6" />
<path d="M1169 372.3L1177 360.3L1185 372.3Z" stroke-width="3.1" fill="none" />
<path d="M1214 360.3L1227 378.3L1220 386.3" stroke-width="3.1" fill="none" />
<path d="M1185 371.3L1214 374.3" stroke-width="5.1" />
<path d="M1124 386.3L1135 373.3" stroke-width="3.8" fill="none" />
<path d="M1538.4 386.3L1638.4 386.3" stroke-width="3.8" />
<path d="M1554.4 375.8L1628.4 375.8" stroke-width="6.4" />
<path d="M1549.4 366.3L1582.4 370.3" stroke-width="3.1" />
<path d="M1549.4 355.3L1549.4 387.3" stroke-width="6.4" />
<path d="M1518.4 349.3L1549.4 358.3" stroke-width="3.8" />
<path d="M1549.4 358.3L1579.4 349.3" stroke-width="3.8" />
<path d="M1532.4 357.3L1566.4 357.3" stroke-width="2.6" />
<path d="M1583.4 372.3L1591.4 360.3L1599.4 372.3Z" stroke-width="3.1" fill="none" />
<path d="M1628.4 360.3L1641.4 378.3L1634.4 386.3" stroke-width="3.1" fill="none" />
<path d="M1599.4 371.3L1628.4 374.3" stroke-width="5.1" />
<path d="M1538.4 386.3L1549.4 373.3" stroke-width="3.8" fill="none" />
<path d="M1950.5 386.3L2050.5 386.3" stroke-width="3.8" />
<path d="M1966.5 375.8L2040.5 375.8" stroke-width="6.4" />
<path d="M1961.5 366.3L1994.5 370.3" stroke-width="3.1" />
<path d="M1961.5 355.3L1961.5 387.3" stroke-width="6.4" />
<path d="M1930.5 349.3L1961.5 358.3" stroke-width="3.8" />
<path d="M1961.5 358.3L1991.5 349.3" stroke-width="3.8" />
<path d="M1944.5 357.3L1978.5 357.3" stroke-width="2.6" />
<path d="M1995.5 372.3L2003.5 360.3L2011.5 372.3Z" stroke-width="3.1" fill="none" />
<path d="M2040.5 360.3L2053.5 378.3L2046.5 386.3" stroke-width="3.1" fill="none" />
<path d="M2011.5 371.3L2040.5 374.3" stroke-width="5.1" />
<path d="M1950.5 386.3L1961.5 373.3" stroke-width="3.8" fill="none" />
<path d="M1341.9 370.5L1428.8 370.5" stroke-width="3.8" />
<path d="M1341.9 379.5L1428.8 379.5" stroke-width="3.8" />
<path d="M1419 357L1419 379" stroke-width="2.8" />
<path d="M1425 357L1425 379" stroke-width="2.8" />
<path d="M1351.5 380L1355.5 763.5" stroke-width="11" stroke="#484848"/>
<path d="M1416.5 380L1420.5 763.5" stroke-width="10" stroke="#484848"/>
<path d="M1352 423.5L1420 423.5" stroke-width="5.1" />
<path d="M1352 467L1420 467" stroke-width="4.1" />
<path d="M1352 507L1420 507" stroke-width="4.1" />
<path d="M1352 541L1420 541" stroke-width="5.1" />
<path d="M1352 585L1420 585" stroke-width="4.1" />
<path d="M1352 625L1420 625" stroke-width="4.1" />
<path d="M1352 664L1420 664" stroke-width="4.1" />
<path d="M1352 702L1420 702" stroke-width="4.1" />
<path d="M1352 744L1420 744" stroke-width="4.1" />
<path d="M730 869.5L1226 869.5" stroke-width="3.3" />
<path d="M820 877L1226 877" stroke-width="3.3" />
<path d="M820 886L1226 886" stroke-width="3.3" />
<rect x="815" y="861" width="12" height="8.5" rx="3" stroke-width="2.2"/>
<rect x="848" y="861" width="16" height="8.5" rx="3" stroke-width="2.2"/>
<rect x="924" y="861" width="30" height="8.5" rx="3" stroke-width="2.2"/>
<rect x="986" y="861" width="28" height="8.5" rx="3" stroke-width="2.2"/>
<rect x="1042" y="861" width="14" height="8.5" rx="3" stroke-width="2.2"/>
<rect x="1074" y="861" width="18" height="8.5" rx="3" stroke-width="2.2"/>
<rect x="866" y="877" width="16" height="9" rx="3" stroke-width="2.4"/>
<rect x="911" y="877" width="18" height="9" rx="3" stroke-width="2.4"/>
<rect x="1011" y="877" width="18" height="9" rx="3" stroke-width="2.4"/>
<rect x="1032" y="877" width="16" height="9" rx="3" stroke-width="2.4"/>
<rect x="1058" y="877" width="16" height="9" rx="3" stroke-width="2.4"/>
<path d="M890 898L1058 898" stroke-width="3.6" />
<path d="M890 912L1058 912" stroke-width="3.6" />
<path d="M840.4 888L840.4 921" stroke-width="6.4" />
<path d="M852.3 892L852.3 926" stroke-width="6.4" />
<path d="M864.2 888L864.2 921" stroke-width="6.4" />
<path d="M876 892L876 926" stroke-width="6.4" />
<path d="M836 898.6L880 898.6" stroke-width="5.1" />
<path d="M836 911.6L880 911.6" stroke-width="5.1" />
<circle cx="970" cy="907" r="11.2" stroke-width="9" fill="none" />
<path d="M980.3 910.2L987.2 912.3" stroke-width="5.8" />
<path d="M975 916.6L978.4 922.9" stroke-width="5.8" />
<path d="M966.8 917.3L964.7 924.2" stroke-width="5.8" />
<path d="M960.4 912L954.1 915.4" stroke-width="5.8" />
<path d="M959.7 903.8L952.8 901.7" stroke-width="5.8" />
<path d="M965 897.4L961.6 891.1" stroke-width="5.8" />
<path d="M973.2 896.7L975.3 889.8" stroke-width="5.8" />
<path d="M979.6 902L985.9 898.6" stroke-width="5.8" />
<path d="M1062.4 886L1062.4 922" stroke-width="6.4" />
<path d="M1074.3 890L1074.3 927" stroke-width="6.4" />
<path d="M1086.2 886L1086.2 922" stroke-width="6.4" />
<path d="M1098 890L1098 927" stroke-width="6.4" />
<path d="M1058 897.5L1102 897.5" stroke-width="5.1" />
<path d="M1058 911.4L1102 911.4" stroke-width="5.1" />
<path d="M885 880L885 925" stroke-width="3.8" />
<path d="M1104 887L1239 908" stroke-width="3.3" />
<path d="M1104 892L1232 913" stroke-width="3.3" />
<path d="M1106 890C1111 892 1132.3 897.3 1136 902C1139.7 906.7 1126.8 914 1128 918C1129.2 922 1135.3 923.8 1143 926C1150.7 928.2 1164 931.8 1174 931.5C1184 931.2 1194.8 928.2 1203 924C1211.2 919.8 1219.7 909 1223 906" stroke-width="3.3" fill="none" />
<path d="M1226 903L1240 899L1243 908L1232 916L1228 910" stroke-width="3.8" fill="none" />
<path d="M1127 917L1121 921L1124 925" stroke-width="3.8" fill="none" />
<path d="M1224 860L1224 893" stroke-width="2.8" />
<path d="M1235 860L1235 893" stroke-width="2.8" />
<path d="M1236 873.5L1355 874.5" stroke-width="2.8" />
<path d="M1236 885L1355 886.5" stroke-width="2.8" />
<path d="M1355 860L1356 888Q1358 904 1372 905.5L1396 906.5Q1408 905 1410 888L1409.5 861" stroke-width="3.1" fill="none" />
<path d="M1360 860L1361 886Q1362 899 1374 900.5L1394 901.5Q1404 900 1405 886L1404.5 861" stroke-width="3.1" fill="none" />
<path d="M1410 872L1475 872" stroke-width="2.8" />
<path d="M1410 883L1475 883.5" stroke-width="2.8" />
<path d="M1476 866L1502 866L1502 891L1476 891Z" stroke-width="3.8" fill="none" />
<circle cx="1489" cy="879" r="5.5" stroke-width="3.3" fill="none" />
<path d="M1478 868L1500 889" stroke-width="3.1" />
<path d="M1500 868L1478 889" stroke-width="3.1" />
<path d="M1503 869L1684 870.5" stroke-width="3.3" />
<path d="M1503 882.5L1684 884" stroke-width="3.3" />
<path d="M1535 862L1535 884" stroke-width="2.8" />
<path d="M1544 862L1544 884" stroke-width="2.8" />
<path d="M1532 909L1671 890" stroke-width="3.3" />
<path d="M1538 914L1668 896" stroke-width="3.3" />
<path d="M1545 921L1640 899" stroke-width="2.8" />
<path d="M1527 912C1531.7 913.8 1545.2 919 1555 922.5C1564.8 926 1575.7 932.9 1586 933C1596.3 933.1 1608.8 927.7 1617 923C1625.2 918.3 1632 908 1635 905" stroke-width="3.3" fill="none" />
<path d="M1527 905L1540 909L1538 920L1528 922" stroke-width="3.8" fill="none" />
<path d="M1628 917L1640 915L1641 921" stroke-width="3.8" fill="none" />
<path d="M1667.4 886L1667.4 918" stroke-width="6.4" />
<path d="M1679.3 890L1679.3 923" stroke-width="6.4" />
<path d="M1691.2 886L1691.2 918" stroke-width="6.4" />
<path d="M1703 890L1703 923" stroke-width="6.4" />
<path d="M1663 896.4L1707 896.4" stroke-width="5.1" />
<path d="M1663 908.9L1707 908.9" stroke-width="5.1" />
<circle cx="1796.5" cy="904.5" r="10.2" stroke-width="9" fill="none" />
<path d="M1806 907.4L1812.3 909.4" stroke-width="5.8" />
<path d="M1801.1 913.3L1804.2 919.1" stroke-width="5.8" />
<path d="M1793.6 914L1791.6 920.3" stroke-width="5.8" />
<path d="M1787.7 909.1L1781.9 912.2" stroke-width="5.8" />
<path d="M1787 901.6L1780.7 899.6" stroke-width="5.8" />
<path d="M1791.9 895.7L1788.8 889.9" stroke-width="5.8" />
<path d="M1799.4 895L1801.4 888.7" stroke-width="5.8" />
<path d="M1805.3 899.9L1811.1 896.8" stroke-width="5.8" />
<path d="M1883.1 886L1883.1 918" stroke-width="6.4" />
<path d="M1896.9 890L1896.9 923" stroke-width="6.4" />
<path d="M1910.6 886L1910.6 918" stroke-width="6.4" />
<path d="M1924.4 890L1924.4 923" stroke-width="6.4" />
<path d="M1878 896.4L1929 896.4" stroke-width="5.1" />
<path d="M1878 908.9L1929 908.9" stroke-width="5.1" />
<rect x="1674" y="862" width="26" height="8.5" rx="3" stroke-width="2.2"/>
<rect x="1712" y="862" width="16" height="8.5" rx="3" stroke-width="2.2"/>
<rect x="1780" y="862" width="22" height="8.5" rx="3" stroke-width="2.2"/>
<rect x="1812" y="862" width="24" height="8.5" rx="3" stroke-width="2.2"/>
<rect x="1893" y="862" width="20" height="8.5" rx="3" stroke-width="2.2"/>
<rect x="1925" y="862" width="12" height="8.5" rx="3" stroke-width="2.2"/>
<rect x="1709" y="874" width="12" height="10" rx="3" stroke-width="2.4"/>
<rect x="1733" y="874" width="18" height="10" rx="3" stroke-width="2.4"/>
<rect x="1838" y="874" width="16" height="10" rx="3" stroke-width="2.4"/>
<rect x="1860" y="874" width="24" height="10" rx="3" stroke-width="2.4"/>
<path d="M1684 873L1945 875" stroke-width="3.3" />
<path d="M1707 884L1942 886" stroke-width="3.3" />
<path d="M1707 897L1878 898.5" stroke-width="3.6" />
<path d="M1707 910L1878 911.5" stroke-width="3.6" />
<path d="M1875 880L1875 925" stroke-width="3.8" />
<path d="M1930 887L2046 906" stroke-width="3.1" />
<path d="M1948 922L2044 898" stroke-width="3.1" />
<path d="M1930 892L2010 912" stroke-width="2.8" />
<path d="M1960 921C1964.2 922.8 1975 930.5 1985 932C1995 933.5 2009.8 933.3 2020 930C2030.2 926.7 2041.7 915 2046 912" stroke-width="3.1" fill="none" />
<path d="M723 910L836 889" stroke-width="3.1" />
<path d="M726 917L836 897" stroke-width="3.1" />
<path d="M726 914C730 917 740.7 928.5 750 932C759.3 935.5 772 936.7 782 935C792 933.3 801 927.3 810 922C819 916.7 831.7 906.2 836 903" stroke-width="3.1" fill="none" />
<path d="M770 922L830 930" stroke-width="2.8" />
<path d="M272.3 792L272.3 1089.5" stroke-width="2.8" />
<path d="M2494.7 784.5L2494.7 1088" stroke-width="2.8" />
<path d="M272.3 1076.3L2494.7 1076.3" stroke-width="2.8" />
<path d="M272.3 1076.3L302.3 1072.1L302.3 1080.5Z" fill="#111" stroke-width="1"/>
<path d="M2494.7 1076.3L2464.7 1080.5L2464.7 1072.1Z" fill="#111" stroke-width="1"/>
<path d="M543 1030.2L2225 1030.2" stroke-width="2.8" />
<path d="M545 1030.2L573 1026.6L573 1033.8Z" fill="#111" stroke-width="1"/>
<path d="M2223 1030.2L2195 1033.8L2195 1026.6Z" fill="#111" stroke-width="1"/>
<path d="M543 740L543 787" stroke-width="2.8" />
<path d="M543 797L543 818" stroke-width="2.8" />
<path d="M543 831L543 857" stroke-width="2.8" />
<path d="M543 862L543 1044" stroke-width="2.8" />
<path d="M2225 728L2225 749" stroke-width="2.8" />
<path d="M2225 791L2225 805" stroke-width="2.8" />
<path d="M2225 817L2225 844" stroke-width="2.8" />
<path d="M2225 851L2225 1042" stroke-width="2.8" />
<path d="M2265 686L2265 762" stroke-width="2.3" />
<path d="M2520 833L2582 833" stroke-width="2.8" />
<path d="M2573.2 835L2573.2 967" stroke-width="2.6" />
<path d="M2573.2 834L2576.8 864L2569.6 864Z" fill="#111" stroke-width="1"/>
<path d="M2573.2 967L2569.6 937L2576.8 937Z" fill="#111" stroke-width="1"/>
<g transform="translate(248 833)">
<path d="M6 -25L64 -25L68 -18.5L68 10L58 10L43 32L35 32L34 43L15 43L7 28L0 5L0 -8L6 -17Z" stroke-width="3.8" fill="#fff" />
<path d="M1 -5L68 -5" stroke-width="7" />
<path d="M1 5L62 5" stroke-width="7" />
<path d="M10 0L60 0" stroke-width="2.6" />
<path d="M23 -25L23 43" stroke-width="5.8" />
<path d="M33 -17L33 32" stroke-width="4.1" />
<path d="M33 -12L36 -20L44 -20L46 -14L62 -14L62 -5" stroke-width="3.6" fill="none" />
<path d="M7 28L24 34" stroke-width="3.6" fill="none" />
<path d="M3 14L26 20" stroke-width="3.6" fill="none" />
<path d="M6 -17L23 -14" stroke-width="3.6" fill="none" />
<path d="M9 -21L23 -20" stroke-width="3.1" fill="none" />
<path d="M68 -8L101 -9" stroke-width="3.3" />
<path d="M68 8L101 7" stroke-width="3.3" />
<path d="M84 -21L103 -22L103 -12L90 -11L90 -17L84 -17Z" stroke-width="3.3" fill="none" />
<path d="M92 -11L86 18L96 22L102 -10" stroke-width="3.3" fill="none" />
<path d="M88 0L100 -20" stroke-width="2.8" />
<path d="M86 10L101 2" stroke-width="2.8" />
<path d="M86 22L108 24L106 30L88 28Z" stroke-width="3.1" fill="#333" />
<path d="M92 24Q66 38 62 52Q58 66 66 80L82 96" stroke-width="3.3" fill="none" />
<path d="M98 28Q74 42 69 54Q66 66 72 76L88 92" stroke-width="3.3" fill="none" />
<path d="M82 96L88 92" stroke-width="3.8" />
<path d="M98 26L76 56" stroke-width="9" fill="none" stroke="#2a2a2a"/>
</g>
<path d="M2415 811L2433 811L2433 820L2423 821L2423 855L2415 855" stroke-width="3.3" fill="none" />
<path d="M2418 824L2430 850" stroke-width="2.8" />
<path d="M2430 824L2418 850" stroke-width="2.8" />
<path d="M2428 825L2486 825" stroke-width="3.3" />
<path d="M2428 831.5L2486 831.5" stroke-width="3.3" />
<path d="M2428 840L2486 840" stroke-width="3.3" />
<path d="M2428 845.5L2486 845.5" stroke-width="3.3" />
<path d="M2436 835.5L2478 835.5" stroke-width="4.5" />
<path d="M2486 808L2462 808Q2450 810 2450 816Q2452 823 2462 820L2472 818L2474 825" stroke-width="3.6" fill="none" />
<path d="M2466 812Q2458 813 2460 817" stroke-width="3.1" fill="none" />
<path d="M2486 807.5L2505.5 807.5L2505.5 874.5L2486 874.5Z" stroke-width="3.8" fill="#fff" />
<path d="M2493 808L2493 874" stroke-width="3.3" />
<path d="M2499.5 808L2499.5 874" stroke-width="3.3" />
<path d="M2505.5 807L2513 813L2520.6 826L2520.6 840L2513 854L2505.5 868" stroke-width="3.6" fill="none" />
<path d="M2511 812L2511 856" stroke-width="3.1" />
<path d="M2516 818L2516 848" stroke-width="2.8" />
<path d="M2457 846L2474 866L2486 861" stroke-width="3.3" fill="none" />
<path d="M2421 853L2444 884" stroke-width="10.2" fill="none" stroke="#2a2a2a"/>
<path d="M2436 856Q2456 868 2461 884Q2460 900 2436 921" stroke-width="3.3" fill="none" />
<path d="M2428 860Q2450 872 2454 886Q2452 900 2430 917" stroke-width="3.3" fill="none" />
<path d="M2436 921L2430 917" stroke-width="3.8" />
</g>
<g transform="matrix(1,-0.013,0.022,1,-14.300,37.440)" stroke="#111" fill="none" stroke-linecap="round" stroke-linejoin="round">
<path d="M2636 953.5L3125 954.3" stroke-width="3.8" />
<path d="M2679.3 474.8C2679.3 472.4 2678.6 465.3 2679.3 460.5C2680 455.7 2681.2 450.9 2683.4 446.2C2685.5 441.4 2687.7 437.8 2692.2 432.2C2696.7 426.6 2704.2 417.8 2710.2 412.5C2716.2 407.2 2721.3 404.2 2728.3 400.3C2735.3 396.3 2744.6 392.3 2752.2 389C2759.9 385.7 2764.8 383.3 2774.1 380.4C2783.5 377.5 2797.5 373.8 2808.2 371.6C2818.8 369.4 2825.4 368.2 2838.1 367.1C2850.7 366.1 2868.8 365.5 2884.2 365.5C2899.5 365.5 2917.6 366.1 2930.2 367.1C2942.9 368.2 2949.5 369.4 2960.1 371.6C2970.8 373.8 2984.8 377.5 2994.2 380.4C3003.5 383.3 3008.4 385.7 3016.1 389C3023.7 392.3 3033 396.3 3040 400.3C3047 404.2 3052.1 407.2 3058.1 412.5C3064.1 417.8 3071.6 426.6 3076.1 432.2C3080.6 437.8 3082.8 441.4 3084.9 446.2C3087.1 450.9 3088.3 455.7 3089 460.5C3089.7 465.3 3089 472.4 3089 474.8" stroke-width="3.3" fill="none" />
<path d="M2679.3 474.8L2679.3 641.5" stroke-width="3.3" />
<path d="M3089 474.8L3089 641.5" stroke-width="3.3" />
<path d="M2677.3 474.8L3089 474.8" stroke-width="3.8" />
<path d="M2679.3 622.6L3089 622.6" stroke-width="3.6" />
<path d="M2679.3 641.5Q2679.3 653.5 2685.3 661.5L2700.3 677L2702.3 686L2705.3 748" stroke-width="3.3" fill="none" />
<path d="M3089 641.5Q3089 653.5 3083 661.5L3065 677L3064 686L3067 748" stroke-width="3.3" fill="none" />
<path d="M2700.3 677L3065 677" stroke-width="4.1" />
<path d="M2702.3 686L3064 686" stroke-width="4.1" />
<path d="M2681 745.6L3085 745.6" stroke-width="2.2" />
<path d="M2681 750.4L3085 750.4" stroke-width="2.2" />
<path d="M2681 748L3085 748" stroke-width="2.8" stroke-dasharray="3 5"/>
<path d="M2698 758.4L3066 758.4" stroke-width="3.6" />
<path d="M2696.7 758.4L2696.7 843" stroke-width="2.2" />
<path d="M2702.7 758.4L2702.7 843" stroke-width="2.2" />
<path d="M3063.2 758.4L3063.2 842" stroke-width="2.2" />
<path d="M3069.2 758.4L3069.2 842" stroke-width="2.2" />
<path d="M2699.7 758.4L2699.7 843" stroke-width="2.6" stroke-dasharray="2 6"/>
<path d="M3066.2 758.4L3066.2 842" stroke-width="2.6" stroke-dasharray="2 6"/>
<path d="M2734 760L2734 813" stroke-width="3.3" />
<path d="M3030 760L3030 812" stroke-width="3.3" />
<path d="M2699 845L2734 813L2752 813L2812 836L2858 838" stroke-width="3.3" fill="none" />
<path d="M3066 844L3030 812L2955 836L2925 838" stroke-width="3.3" fill="none" />
<path d="M2776 829L2776 953.5" stroke-width="3.8" />
<path d="M2789 829L2789 953.5" stroke-width="3.8" />
<path d="M2978 829L2978 953.5" stroke-width="3.8" />
<path d="M2991 829L2991 953.5" stroke-width="3.8" />
<path d="M2787 843L2976 843" stroke-width="5.1" />
<path d="M2787 860L2843 882L2930 881L2976 861" stroke-width="3.3" fill="none" />
<path d="M2801 883.5L2964 883.5" stroke-width="4.1" />
<path d="M2814 893L2949 893" stroke-width="3.1" />
<path d="M2801 900L2968 900" stroke-width="3.3" />
<path d="M2788 918L2975 918" stroke-width="4.4" />
<path d="M2797 900L2797 918" stroke-width="3.1" />
<path d="M2816 900L2816 918" stroke-width="3.1" />
<path d="M2949 900L2949 918" stroke-width="3.1" />
<path d="M2968 900L2968 918" stroke-width="3.1" />
<path d="M2846 901L2873 912.5L2892 912.5L2911 901" stroke-width="3.1" fill="none" />
<circle cx="2886" cy="910.5" r="4.5" stroke-width="3.8" fill="#222" />
<rect x="2727" y="847" width="42" height="67" rx="0" stroke-width="3.6" fill="none"/>
<rect x="2728.5" y="859" width="10.5" height="52" rx="0" stroke-width="1.9" fill="#4a4a4a"/>
<rect x="2759" y="859" width="8.5" height="52" rx="0" stroke-width="1.9" fill="#4a4a4a"/>
<rect x="2739.5" y="847" width="19.5" height="45" rx="5" stroke-width="3.6" fill="#fff"/>
<path d="M2741 896Q2747 909 2758 906" stroke-width="3.1" fill="none" />
<path d="M2740 902L2758 900" stroke-width="2.8" />
<path d="M2721 915L2772 915L2770 930L2729 930Z" stroke-width="4.1" fill="none" />
<rect x="2734" y="919.5" width="26" height="8" rx="0" stroke-width="3.1" fill="none"/>
<rect x="3001.5" y="847" width="42" height="67" rx="0" stroke-width="3.6" fill="none"/>
<rect x="3031.5" y="859" width="10.5" height="52" rx="0" stroke-width="1.9" fill="#4a4a4a"/>
<rect x="3003" y="859" width="8.5" height="52" rx="0" stroke-width="1.9" fill="#4a4a4a"/>
<rect x="3011.5" y="847" width="19.5" height="45" rx="5" stroke-width="3.6" fill="#fff"/>
<path d="M3029.5 896Q3023.5 909 3012.5 906" stroke-width="3.1" fill="none" />
<path d="M3030.5 902L3012.5 900" stroke-width="2.8" />
<path d="M3049.5 915L2998.5 915L3000.5 930L3041.5 930Z" stroke-width="4.1" fill="none" />
<rect x="3010.5" y="919.5" width="26" height="8" rx="0" stroke-width="3.1" fill="none"/>
<path d="M2706 846L2735 818L2750 817L2762 826L2790 842" stroke-width="3.6" fill="none" />
<path d="M2738 822L2730 840" stroke-width="3.3" fill="none" />
<path d="M2750 820L2742 840" stroke-width="3.3" fill="none" />
<path d="M2780 838L2780 870" stroke-width="6.4" fill="none" stroke="#2a2a2a"/>
<path d="M2795 860L2850 870L2860 852L2868 832" stroke-width="3.6" fill="none" />
<path d="M2822 848L2832 815L2838 817L2828 850" stroke-width="3.3" fill="none" />
<path d="M2860 800L2872 795L2900 795L2920 806L2924 832L2905 838L2898 848L2872 848L2858 836Z" stroke-width="3.6" fill="none" />
<path d="M2878 798L2878 846" stroke-width="6.4" />
<path d="M2890 800L2890 840" stroke-width="3.8" />
<path d="M2858 806L2876 804" stroke-width="4.4" />
<path d="M2858 816L2876 814" stroke-width="4.4" />
<path d="M2858 826L2876 824" stroke-width="4.4" />
<path d="M2858 836L2876 834" stroke-width="4.4" />
<path d="M2890 812L2906 812" stroke-width="3.1" />
<path d="M2890 826L2906 826" stroke-width="3.1" />
<path d="M2991 852L3046 850" stroke-width="3.1" />
<path d="M2678.6 847.6L2722 847.6" stroke-width="3.8" />
<path d="M2697.5 842L2697.5 880" stroke-width="2.8" />
<path d="M2706 842L2706 880" stroke-width="2.8" />
<circle cx="2686" cy="864.6" r="5.5" stroke-width="5.1" fill="#444" />
<path d="M2678 866L2697 862" stroke-width="3.1" />
<path d="M2678 879.6L2712 879.6L2712 885.5L2684 886L2678 883Z" stroke-width="3.8" fill="#222" />
<path d="M2705.5 892.4L2727 892.4" stroke-width="3.3" />
<path d="M3046.4 848L3084.3 848" stroke-width="3.8" />
<path d="M3052 846.5L3052 881" stroke-width="2.8" />
<path d="M3061 846.5L3061 881" stroke-width="2.8" />
<circle cx="3076.4" cy="864" r="5.5" stroke-width="5.1" fill="#444" />
<path d="M3065 862L3085 866" stroke-width="3.1" />
<path d="M3051.4 881L3085.3 883L3086 890L3060 890.7L3051.4 886Z" stroke-width="3.8" fill="#222" />
<path d="M3043.5 892L3056 892" stroke-width="3.3" />
<path d="M2753 341L3013 341" stroke-width="5.8" />
<path d="M2758 349L2836 349" stroke-width="3.1" />
<path d="M2842 347L3010 347" stroke-width="3.1" />
<path d="M2758 356L2836 356" stroke-width="3.1" />
<path d="M2842 355L3010 355" stroke-width="3.1" />
<path d="M2760 362.5L3008 362.5" stroke-width="3.3" />
<path d="M2755 341L2757 362" stroke-width="3.8" />
<path d="M3011 341L3010 362" stroke-width="3.8" />
<path d="M2838 343L2838 362" stroke-width="3.8" />
<path d="M2830 366.5L2942 366.5" stroke-width="5.8" />
<path d="M2760.5 364L2760.5 384" stroke-width="2.8" />
<path d="M2767.5 364L2767.5 384" stroke-width="2.8" />
<path d="M3000 362L3000 380" stroke-width="2.8" />
<path d="M3007 362L3007 380" stroke-width="2.8" />
<path d="M2722 402L2739 361.5L2756 360" stroke-width="3.1" fill="none" />
<path d="M2728 398L2743 365.5" stroke-width="3.1" fill="none" />
<path d="M3044 403L3027 360L3010 358.5" stroke-width="3.1" fill="none" />
<path d="M3038 398L3023 363.5" stroke-width="3.1" fill="none" />
<path d="M2884 336L2884 368" stroke-width="7.7" />
<path d="M2852 331Q2870 331 2884 343L2912 331" stroke-width="3.6" fill="none" />
<path d="M2934 345L2944 360" stroke-width="3.3" />
<path d="M2678.3 270L2679.3 474.8" stroke-width="2.6" />
<path d="M3088.2 270L3089 474.8" stroke-width="2.6" />
<path d="M2680.3 283.5L3088 283.5" stroke-width="3.1" />
<path d="M2680.3 283.5L2709.3 279.9L2709.3 287.1Z" fill="#111" stroke-width="1"/>
<path d="M3088 283.5L3059 287.1L3059 279.9Z" fill="#111" stroke-width="1"/>
<path d="M2638.7 332L2871 331.3" stroke-width="2.8" />
<path d="M2652.1 334.5L2648.3 951.7" stroke-width="2.8" />
<path d="M2652.1 334.5L2655.3 364.5L2648.5 364.5Z" fill="#111" stroke-width="1"/>
<path d="M2648.3 952.5L2645.1 922.5L2651.9 922.5Z" fill="#111" stroke-width="1"/>
<path d="M2884.2 292L2884.2 446" stroke-width="2.8" />
<path d="M2884.2 462L2884.2 467" stroke-width="2.8" />
<path d="M2884.2 488L2884.2 572" stroke-width="2.8" />
<path d="M2884.2 589L2884.2 606" stroke-width="2.8" />
<path d="M2884.2 613L2884.2 683" stroke-width="2.8" />
<path d="M2884.2 692L2884.2 698" stroke-width="2.8" />
<path d="M2884.2 717L2884.2 725" stroke-width="2.8" />
<path d="M2884.2 739L2884.2 847" stroke-width="2.8" />
<path d="M2884.2 866L2884.2 954" stroke-width="2.8" />
</g>
<g fill="#111">
<circle cx="1911" cy="1185" r="2.4"/>
<circle cx="1910.5" cy="1188" r="1.6"/>
<circle cx="1106" cy="507" r="1.6"/>
<circle cx="2023" cy="513" r="1.6"/>
<circle cx="2701" cy="319" r="1.8"/>
<circle cx="967" cy="2177" r="1.6"/>
<circle cx="1567" cy="2052" r="1.5"/>
<circle cx="1360" cy="2195" r="1.5"/>
<circle cx="2563" cy="150" r="1.4"/>
<circle cx="2091" cy="1100" r="1.8"/>
<circle cx="624" cy="370" r="1.3"/>
<circle cx="2627" cy="905" r="1.4"/>
<circle cx="1755" cy="100" r="1.5"/>
<circle cx="170" cy="1000" r="1.2"/>
<circle cx="1303" cy="1490" r="1.2"/>
<circle cx="1790" cy="1445" r="1.2"/>
</g>
</svg></body></html>
